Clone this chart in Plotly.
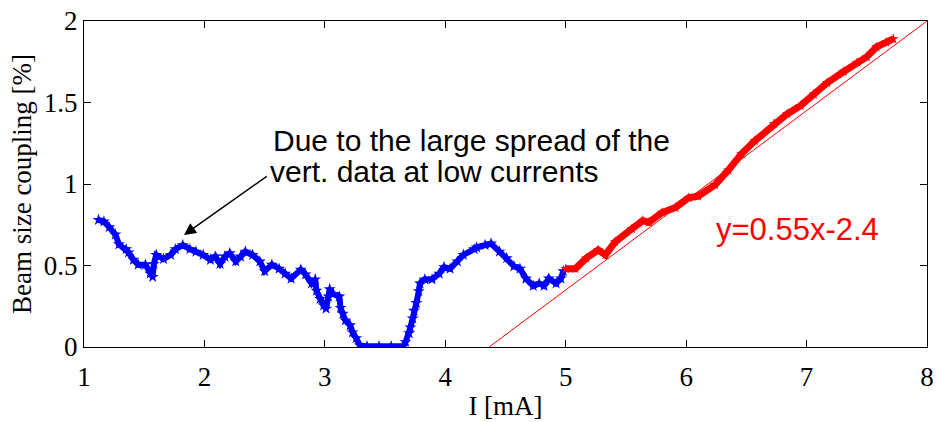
import plotly.graph_objects as go

# Blue data (low current)
blue_x = [1.12, 1.165, 1.21, 1.26, 1.29, 1.35, 1.37, 1.41, 1.45, 1.51, 1.55, 1.57, 1.58, 1.60,
          1.66, 1.72, 1.76, 1.82, 1.88, 1.93, 1.99, 2.05, 2.09, 2.13, 2.17, 2.21, 2.26, 2.30,
          2.34, 2.40, 2.46, 2.50, 2.56, 2.62, 2.67, 2.72, 2.80, 2.84, 2.89, 2.92, 2.93, 2.96,
          2.99, 3.01, 3.03, 3.04, 3.07, 3.12, 3.13, 3.15, 3.17, 3.21, 3.23, 3.26, 3.29, 3.35,
          3.45, 3.55, 3.65, 3.67, 3.70, 3.71, 3.73, 3.74, 3.76, 3.78, 3.79, 3.83, 3.89, 3.95,
          3.99, 4.04, 4.10, 4.15, 4.24, 4.26, 4.33, 4.38, 4.45, 4.51, 4.57, 4.62, 4.67, 4.73,
          4.78, 4.82, 4.86, 4.92, 4.96, 4.98]
blue_y = [0.78, 0.77, 0.735, 0.69, 0.63, 0.60, 0.58, 0.535, 0.505, 0.505, 0.45, 0.43, 0.51, 0.565,
          0.54, 0.565, 0.60, 0.625, 0.60, 0.585, 0.565, 0.535, 0.555, 0.51, 0.555, 0.575, 0.525, 0.555,
          0.585, 0.565, 0.525, 0.465, 0.505, 0.48, 0.45, 0.42, 0.475, 0.445, 0.39, 0.415, 0.345, 0.295,
          0.255, 0.235, 0.31, 0.355, 0.325, 0.31, 0.24, 0.205, 0.163, 0.133, 0.09, 0.054, 0.01, 0.005,
          0.005, 0.005, 0.005, 0.03, 0.084, 0.12, 0.175, 0.223, 0.27, 0.343, 0.39, 0.415, 0.415, 0.45,
          0.49, 0.48, 0.525, 0.565, 0.60, 0.61, 0.625, 0.635, 0.585, 0.545, 0.495, 0.48, 0.42, 0.375,
          0.39, 0.375, 0.42, 0.39, 0.42, 0.465]

# Red data (high current)
red_x = [5.0, 5.08, 5.17, 5.27, 5.33, 5.41, 5.55, 5.64, 5.69, 5.80, 5.91, 6.02, 6.10, 6.24,
         6.35, 6.46, 6.57, 6.73, 6.84, 6.95, 7.06, 7.17, 7.31, 7.42, 7.50, 7.58, 7.66, 7.72]
red_y = [0.48, 0.48, 0.545, 0.595, 0.565, 0.645, 0.725, 0.775, 0.765, 0.825, 0.855, 0.915, 0.925, 0.995,
         1.085, 1.185, 1.265, 1.37, 1.43, 1.48, 1.55, 1.62, 1.69, 1.745, 1.78, 1.84, 1.87, 1.89]

# Linear fit y = 0.55x - 2.4
fit_slope = 0.55
fit_intercept = -2.4
fit_x = [-fit_intercept / fit_slope, 8.0]
fit_y = [fit_slope * x + fit_intercept for x in fit_x]

x_ticks = [1, 2, 3, 4, 5, 6, 7, 8]
y_ticks = [0, 0.5, 1, 1.5, 2]
y_tick_labels = ["0", "0.5", "1", "1.5", "2"]

BLUE = "#0000FF"
RED = "#FF0000"
serif = "Liberation Serif"
sans = "Liberation Sans"

fig = go.Figure()
fig.add_trace(go.Scatter(x=blue_x, y=blue_y, mode="lines+markers",
                         line=dict(color=BLUE, width=6),
                         marker=dict(color=BLUE, size=9, symbol="star"),
                         showlegend=False))
fig.add_trace(go.Scatter(x=red_x, y=red_y, mode="lines+markers",
                         line=dict(color=RED, width=7),
                         marker=dict(color=RED, size=8, symbol="star"),
                         showlegend=False))
fig.add_trace(go.Scatter(x=fit_x, y=fit_y, mode="lines",
                         line=dict(color=RED, width=1),
                         showlegend=False))

axis_common = dict(showline=True, linecolor="black", linewidth=1, mirror="ticks",
                   ticks="inside", ticklen=7, tickcolor="black", tickwidth=1,
                   showgrid=False, zeroline=False,
                   tickfont=dict(family=serif, size=27, color="black"))

fig.update_xaxes(range=[1, 8], tickvals=x_ticks, ticklabelstandoff=6,
                 title=dict(text="I [mA]", font=dict(family=serif, size=27, color="black"), standoff=4),
                 **axis_common)
fig.update_yaxes(range=[0, 2], tickvals=y_ticks, ticktext=y_tick_labels,
                 title=dict(text="Beam size coupling [%]", font=dict(family=serif, size=27, color="black"), standoff=4),
                 **axis_common)

annotations = [
    dict(x=2.556, y=(347 - 137) / 166, xref="x", yref="y", xanchor="left", yanchor="middle",
         text="Due to the large spread of the", showarrow=False,
         font=dict(family=sans, size=30, color="black")),
    dict(x=2.53, y=(347 - 168) / 166, xref="x", yref="y", xanchor="left", yanchor="middle",
         text="vert. data at low currents", showarrow=False,
         font=dict(family=sans, size=30, color="black")),
    dict(x=1.83, y=0.687, ax=2.53, ay=1.054, xref="x", yref="y", axref="x", ayref="y",
         text="", showarrow=True, arrowhead=2, arrowsize=1.6, arrowwidth=1.5, arrowcolor="black"),
    dict(x=6.23, y=0.72, xref="x", yref="y", xanchor="left", yanchor="middle",
         text="y=0.55x-2.4", showarrow=False,
         font=dict(family=sans, size=31, color=RED)),
]
fig.update_layout(width=940, height=422, margin=dict(l=84, r=6, t=15, b=75),
                  plot_bgcolor="white", paper_bgcolor="white",
                  annotations=annotations)

fig.write_html("out.html")
